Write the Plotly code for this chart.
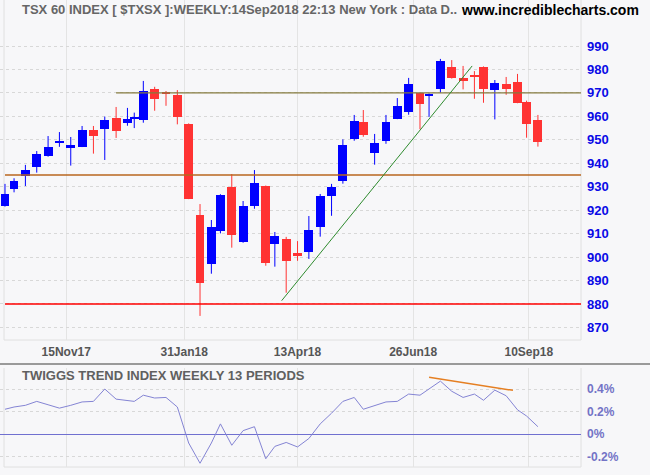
import numpy as np
import plotly.graph_objects as go

# ---------------- data ----------------
week_end = ["2017-10-06", "2017-10-13", "2017-10-20", "2017-10-27", "2017-11-03",
            "2017-11-10", "2017-11-17", "2017-11-24", "2017-12-01", "2017-12-08",
            "2017-12-15", "2017-12-22", "2017-12-29", "2018-01-05", "2018-01-12",
            "2018-01-19", "2018-01-26", "2018-02-02", "2018-02-09", "2018-02-16",
            "2018-02-23", "2018-03-02", "2018-03-09", "2018-03-16", "2018-03-23",
            "2018-03-29", "2018-04-06", "2018-04-13", "2018-04-20", "2018-04-27",
            "2018-05-04", "2018-05-11", "2018-05-18", "2018-05-25", "2018-06-01",
            "2018-06-08", "2018-06-15", "2018-06-22", "2018-06-29", "2018-07-06",
            "2018-07-13", "2018-07-20", "2018-07-27", "2018-08-03", "2018-08-10",
            "2018-08-17", "2018-08-24", "2018-08-31", "2018-09-07", "2018-09-14"]

opens = [921.8, 929.1, 934.7, 938.5, 943.2, 948.9, 946.6, 947.1, 954.2, 954.7,
         959.3, 957.3, 959.0, 958.4, 971.7, 970.4, 969.1, 956.7, 917.9, 897.2,
         911.2, 930.0, 906.4, 921.9, 930.3, 905.4, 907.6, 901.7, 902.0, 912.9,
         926.2, 932.6, 950.5, 957.6, 944.5, 949.6, 959.0, 962.0, 970.0, 969.0,
         971.8, 981.0, 976.4, 977.4, 981.0, 971.2, 973.8, 974.6, 966.2, 958.4]
highs = [931.2, 933.6, 939.3, 945.2, 951.6, 953.3, 951.2, 955.9, 955.9, 959.9,
         964.0, 963.6, 961.6, 975.1, 972.6, 970.8, 971.2, 957.0, 922.6, 915.8,
         926.8, 935.4, 923.9, 937.1, 930.5, 910.7, 908.6, 906.8, 917.5, 926.9,
         931.2, 950.2, 960.6, 962.7, 952.5, 960.6, 967.8, 976.4, 970.2, 969.8,
         984.5, 984.0, 981.5, 979.3, 981.3, 975.5, 976.8, 978.1, 966.7, 960.6]
lows = [921.5, 927.6, 930.3, 936.0, 942.8, 947.0, 939.0, 946.9, 944.1, 941.4,
        950.8, 956.0, 955.0, 957.3, 962.4, 964.5, 956.6, 924.7, 874.9, 892.9,
        910.1, 904.0, 906.1, 920.6, 896.3, 895.9, 884.8, 898.4, 899.2, 908.7,
        917.6, 931.3, 949.6, 951.3, 939.4, 948.3, 958.8, 960.7, 954.5, 959.8,
        970.1, 976.1, 971.5, 967.5, 965.8, 958.7, 969.2, 965.6, 950.9, 947.1]
closes = [926.9, 932.4, 937.1, 943.9, 946.9, 949.4, 947.8, 954.2, 951.7, 958.4,
          953.9, 958.9, 959.7, 970.8, 967.4, 969.8, 959.9, 924.9, 889.1, 912.8,
          926.5, 909.5, 921.8, 931.6, 897.6, 909.0, 898.4, 900.3, 911.5, 926.0,
          929.9, 947.8, 958.0, 952.2, 948.6, 957.6, 964.4, 973.8, 965.4, 969.5,
          983.6, 976.4, 975.2, 976.9, 971.8, 974.2, 971.8, 965.8, 956.9, 949.2]

# Twiggs Trend Index (13 weeks), percent
twiggs = [0.22, 0.24, 0.255, 0.29, 0.26, 0.23, 0.255, 0.285, 0.29, 0.40,
          0.31, 0.295, 0.29, 0.345, 0.32, 0.325, 0.24, -0.08, -0.26, -0.08,
          0.09, -0.10, 0.03, 0.065, -0.22, -0.11, -0.075, -0.115, -0.04, 0.09,
          0.185, 0.29, 0.325, 0.22, 0.255, 0.285, 0.29, 0.355, 0.345, 0.40,
          0.47, 0.38, 0.325, 0.355, 0.30, 0.39, 0.34, 0.215, 0.16, 0.065]

# TSX market holidays in the period (x axis counts trading days)
holidays = ["2017-10-09", "2017-12-25", "2017-12-26", "2018-01-01", "2018-02-19",
            "2018-03-30", "2018-05-21", "2018-07-02", "2018-08-06", "2018-09-03"]

tick_dates = ["2017-11-15", "2018-01-31", "2018-04-13", "2018-06-26", "2018-09-10"]
tick_labels = ["15Nov17", "31Jan18", "13Apr18", "26Jun18", "10Sep18"]

price_ticks = [870, 880, 890, 900, 910, 920, 930, 940, 950, 960, 970, 980, 990]
ind_ticks = [-0.2, 0, 0.2, 0.4]
ind_tick_labels = ["-0.2%", "0%", "0.2%", "0.4%"]

# user drawn lines
resistance_level = 970          # olive, drawn from mid-Dec 2017
resistance_start = "2017-12-15"
support_level = 935             # brown
low_level = 880                 # red
trend_dates = ["2018-04-04", "2018-08-02"]
trend_prices = [881.4, 981.5]
div_dates = ["2018-07-06", "2018-08-29"]
div_values = [0.504, 0.388]

# ---------------- helpers ----------------
d0 = np.datetime64(week_end[0])
hol = np.array(holidays, dtype="datetime64[D]")


def tday(dates):
    return np.busday_count(d0, np.array(dates, dtype="datetime64[D]"), holidays=hol).astype(float)


t = tday(week_end)
o = np.array(opens); h = np.array(highs); l = np.array(lows); c = np.array(closes)
up = c >= o

BLUE = "#0000FF"
RED = "#FF3333"

x_range = [-2.2, 254.0]

fig = go.Figure()

# wicks
for mask, col in ((up, BLUE), (~up, RED)):
    wx, wy = [], []
    for ti, hi, lo in zip(t[mask], h[mask], l[mask]):
        wx += [ti, ti, None]
        wy += [lo, hi, None]
    fig.add_trace(go.Scatter(x=wx, y=wy, mode="lines", line=dict(color=col, width=1),
                             hoverinfo="skip", xaxis="x", yaxis="y"))

# bodies
body_base = np.minimum(o, c)
body_h = np.maximum(np.abs(c - o), 0.5)
fig.add_trace(go.Bar(x=t, y=body_h, base=body_base, width=3.9,
                     marker=dict(color=[BLUE if u else RED for u in up], line=dict(width=0)),
                     xaxis="x", yaxis="y"))

# horizontal level lines
fig.add_trace(go.Scatter(x=[tday([resistance_start])[0], x_range[1]],
                         y=[resistance_level, resistance_level], mode="lines",
                         line=dict(color="#857B3E", width=1.3), xaxis="x", yaxis="y"))
fig.add_trace(go.Scatter(x=[0, x_range[1]], y=[support_level, support_level], mode="lines",
                         line=dict(color="#B8661E", width=1.3), xaxis="x", yaxis="y"))
fig.add_trace(go.Scatter(x=[0, x_range[1]], y=[low_level, low_level], mode="lines",
                         line=dict(color="#FF0000", width=1.5), xaxis="x", yaxis="y"))
# trend line
fig.add_trace(go.Scatter(x=tday(trend_dates), y=trend_prices, mode="lines",
                         line=dict(color="#2E8B2E", width=1), xaxis="x", yaxis="y"))

# indicator
fig.add_trace(go.Scatter(x=t, y=twiggs, mode="lines", line=dict(color="#8484D4", width=1),
                         xaxis="x2", yaxis="y2"))
fig.add_trace(go.Scatter(x=tday(div_dates), y=div_values, mode="lines",
                         line=dict(color="#E57F22", width=1.5), xaxis="x2", yaxis="y2"))

H = 475.0
PW = 581.0   # plot-area width in pixels (paper x spans this)
price_dom = [1 - 340 / H, 1.0]
ind_dom = [1 - 467 / H, 1 - 368 / H]

tick_t = tday(tick_dates)

axis_common_x = dict(range=x_range, tickvals=tick_t, showgrid=True, gridcolor="#E4E4E4",
                     gridwidth=1, zeroline=False, showline=False, ticks="")

fig.update_layout(
    width=650, height=475,
    margin=dict(l=0, r=69, t=0, b=0),
    paper_bgcolor="#F7F7F9", plot_bgcolor="#F7F7F9",
    showlegend=False, barmode="overlay", bargap=0,
    xaxis=dict(**axis_common_x, anchor="y", domain=[0, 1], ticktext=tick_labels,
               tickfont=dict(family="Liberation Sans", size=12, color="#555555", weight="bold"),
               ticklabelstandoff=3),
    xaxis2=dict(**axis_common_x, anchor="y2", domain=[0, 1], matches="x",
                showticklabels=False),
    yaxis=dict(domain=price_dom, range=[864.63, 1009.62], side="right", anchor="x",
               tickvals=price_ticks, showgrid=True, gridcolor="#D8D8D8", griddash="dot",
               zeroline=False, ticks="", ticklabelstandoff=5,
               tickfont=dict(family="Liberation Sans", size=13, color="#0A0AE6", weight="bold")),
    yaxis2=dict(domain=ind_dom, range=[-0.2933, 0.5867], side="right", anchor="x2",
                tickvals=ind_ticks, ticktext=ind_tick_labels, showgrid=True,
                gridcolor="#D8D8D8", griddash="dot", zeroline=True,
                zerolinecolor="#7070D0", zerolinewidth=1, ticks="", ticklabelstandoff=5,
                tickfont=dict(family="Liberation Sans", size=12, color="#7373C6", weight="bold")),
)

# frame lines and separator
shapes = []
for y0, y1 in ((0, 340), (368, 467)):
    for xp in (4, 581):
        shapes.append(dict(type="line", xref="paper", yref="paper", x0=xp / PW, x1=xp / PW,
                           y0=1 - y0 / H, y1=1 - y1 / H, line=dict(color="#E0E0E0", width=1),
                           layer="below"))
for yp in (340, 467):
    shapes.append(dict(type="line", xref="paper", yref="paper", x0=4 / PW, x1=1,
                       y0=1 - yp / H, y1=1 - yp / H, line=dict(color="#E0E0E0", width=1),
                       layer="below"))
shapes.append(dict(type="line", xref="paper", yref="paper", x0=0, x1=650 / PW,
                   y0=1 - 364 / H, y1=1 - 364 / H, line=dict(color="#9A9A9A", width=2)))
fig.update_layout(shapes=shapes)

fig.add_annotation(xref="paper", yref="paper", x=20 / PW, y=1 - 10 / H, xanchor="left",
                   yanchor="middle", showarrow=False,
                   text="TSX 60 INDEX [ $TXSX ]:WEEKLY:14Sep2018 22:13 New York : Data D..",
                   font=dict(family="Liberation Sans", size=13, color="#666666", weight="bold"))
fig.add_annotation(xref="paper", yref="paper", x=641 / PW, y=1 - 10 / H, xanchor="right",
                   yanchor="middle", showarrow=False, text="www.incrediblecharts.com",
                   font=dict(family="Liberation Sans", size=14, color="#000000", weight="bold"))
fig.add_annotation(xref="paper", yref="paper", x=20 / PW, y=1 - 375 / H, xanchor="left",
                   yanchor="middle", showarrow=False,
                   text="TWIGGS TREND INDEX WEEKLY 13 PERIODS",
                   font=dict(family="Liberation Sans", size=13, color="#606060", weight="bold"))

fig.write_html("out.html")
